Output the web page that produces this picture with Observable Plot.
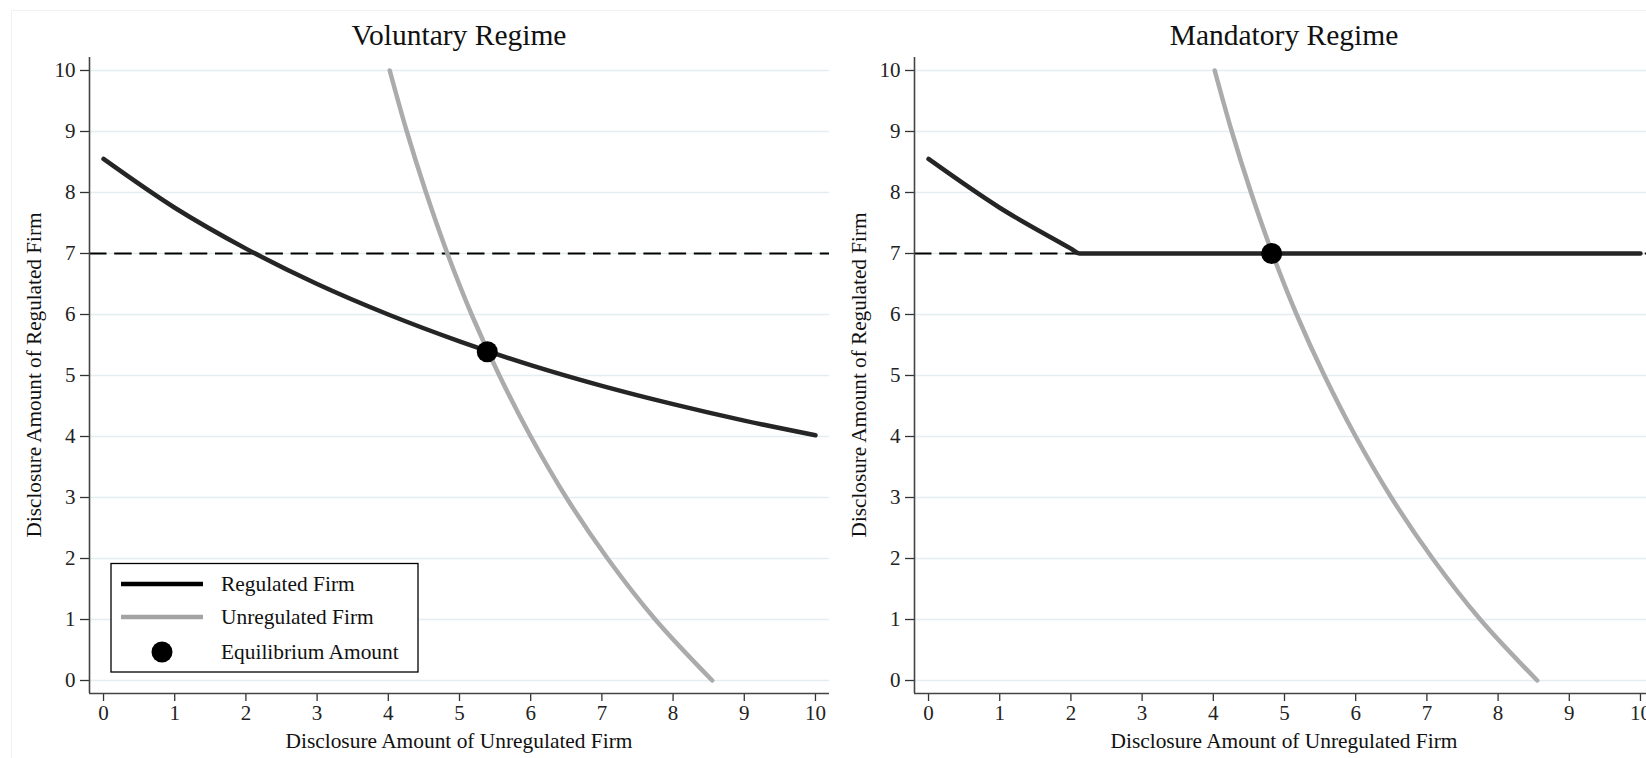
<!DOCTYPE html>
<html>
<head>
<meta charset="utf-8">
<script src="https://cdn.jsdelivr.net/npm/d3@7"></script>
<script src="https://cdn.jsdelivr.net/npm/@observablehq/plot@0.6"></script>
<style>
  body { margin: 0; background: #fff; width: 1646px; height: 758px; overflow: hidden; position: relative; font-family: "Liberation Serif", serif; }
  #frame { position: absolute; left: 11px; top: 10px; width: 1700px; height: 800px; border: 1px solid #f1f1f1; box-sizing: border-box; }
  .panel { position: absolute; top: 0; width: 840px; height: 758px; }
  .panel svg { max-width: none !important; width: 840px !important; height: 758px !important; }
  .panel svg, .panel svg text { font-family: "Liberation Serif", serif !important; }
  #overlay { position: absolute; left: 0; top: 0; }
</style>
</head>
<body>
<div id="frame"></div>
<div id="left" class="panel" style="left:0px"></div>
<div id="right" class="panel" style="left:825px"></div>
<svg id="overlay" width="1646" height="758"></svg>
<script>
// ---- data ----
const titles = ["Voluntary Regime", "Mandatory Regime"];
const xAxisLabel = "Disclosure Amount of Unregulated Firm";
const yAxisLabel = "Disclosure Amount of Regulated Firm";
const xTicks = [0, 1, 2, 3, 4, 5, 6, 7, 8, 9, 10];
const yTicks = [0, 1, 2, 3, 4, 5, 6, 7, 8, 9, 10];

// Regulated firm reaction curve (voluntary): x -> y
const regX = [0, 1, 2, 3, 4, 5, 6, 7, 8, 9, 10];
const regY = [8.55, 7.75, 7.08, 6.50, 6.00, 5.56, 5.17, 4.83, 4.53, 4.26, 4.02];

// Regulated firm (mandatory): curve down to the floor at 7, then flat
const mandX = [0, 1, 2, 2.12, 10];
const mandY = [8.55, 7.75, 7.08, 7, 7];

// Unregulated firm reaction curve: y -> x
const unregY = [0, 1, 2, 3, 4, 5, 6, 7, 8, 9, 10];
const unregX = [8.55, 7.75, 7.08, 6.50, 6.00, 5.56, 5.17, 4.83, 4.53, 4.26, 4.02];

const mandatoryLevel = [7];
const eqVoluntary = [{x: 5.39, y: 5.39}];
const eqMandatory = [{x: 4.82, y: 7}];

const legendLabels = ["Regulated Firm", "Unregulated Firm", "Equilibrium Amount"];

// ---- build tables ----
const regVol = regX.map((x, i) => ({x, y: regY[i]}));
const regMand = mandX.map((x, i) => ({x, y: mandY[i]}));
const unreg = unregY.map((y, i) => ({x: unregX[i], y}));

const xDom = [-0.197, 10.197];
const yDom = [-0.213, 10.213];
const FONT = "'Liberation Serif', serif";

function panel(reg, regCurve, eq) {
  return Plot.plot({
    width: 840, height: 758,
    marginLeft: 89, marginRight: 11, marginTop: 57, marginBottom: 65,
    x: {domain: xDom},
    y: {domain: yDom},
    style: {fontFamily: FONT, fontSize: "21px", color: "#222", background: "transparent", overflow: "visible"},
    marks: [
      Plot.gridY(yTicks, {stroke: "#e4eef0", strokeOpacity: 1, strokeWidth: 1.6}),
      Plot.ruleY(mandatoryLevel, {stroke: "#000", strokeWidth: 2, strokeDasharray: "17.5,7.7"}),
      Plot.line(unreg, {x: "x", y: "y", curve: "catmull-rom", stroke: "#ababab", strokeWidth: 4.5}),
      Plot.line(reg, {x: "x", y: "y", curve: regCurve, stroke: "#252525", strokeWidth: 4.5}),
      Plot.dot(eq, {x: "x", y: "y", r: 10.5, fill: "#000", stroke: null}),
      Plot.axisX({ticks: xTicks, tickSize: 8, tickPadding: 4, label: null, stroke: "#333", strokeWidth: 1.3,
                  fontFamily: FONT, fontSize: 21, fill: "#222", tickFormat: d => String(d)}),
      Plot.axisY({ticks: yTicks, tickSize: 9, tickPadding: 5, label: null, stroke: "#333", strokeWidth: 1.3,
                  fontFamily: FONT, fontSize: 21, fill: "#222", tickFormat: d => String(d)}),
      Plot.ruleY([yDom[0]], {stroke: "#444", strokeWidth: 1.6}),
      Plot.ruleX([xDom[0]], {stroke: "#444", strokeWidth: 1.6})
    ]
  });
}

document.getElementById("left").appendChild(panel(regVol, "catmull-rom", eqVoluntary));
document.getElementById("right").appendChild(panel(regMand, "monotone-x", eqMandatory));

// ---- titles, axis labels, legend ----
const ov = d3.select("#overlay").style("font-family", FONT).attr("fill", "#111");
[0, 825].forEach((off, i) => {
  ov.append("text").attr("x", off + 459).attr("y", 45).attr("text-anchor", "middle")
    .attr("font-size", 29.5).text(titles[i]);
  ov.append("text").attr("x", off + 459).attr("y", 748).attr("text-anchor", "middle")
    .attr("font-size", 21.4).text(xAxisLabel);
  ov.append("text").attr("transform", `translate(${off + 41},375) rotate(-90)`).attr("text-anchor", "middle")
    .attr("font-size", 21.2).text(yAxisLabel);
});

const lg = ov.append("g");
lg.append("rect").attr("x", 111).attr("y", 563.5).attr("width", 307).attr("height", 108.5)
  .attr("fill", "#fff").attr("stroke", "#000").attr("stroke-width", 1.3);
lg.append("line").attr("x1", 121).attr("x2", 203).attr("y1", 584).attr("y2", 584).attr("stroke", "#000").attr("stroke-width", 4.5);
lg.append("line").attr("x1", 121).attr("x2", 203).attr("y1", 617).attr("y2", 617).attr("stroke", "#a3a3a3").attr("stroke-width", 4.5);
lg.append("circle").attr("cx", 162).attr("cy", 652).attr("r", 10.5).attr("fill", "#000");
[591, 624, 659].forEach((y, i) => {
  lg.append("text").attr("x", 221).attr("y", y).attr("font-size", 21.4).text(legendLabels[i]);
});
</script>
</body>
</html>
